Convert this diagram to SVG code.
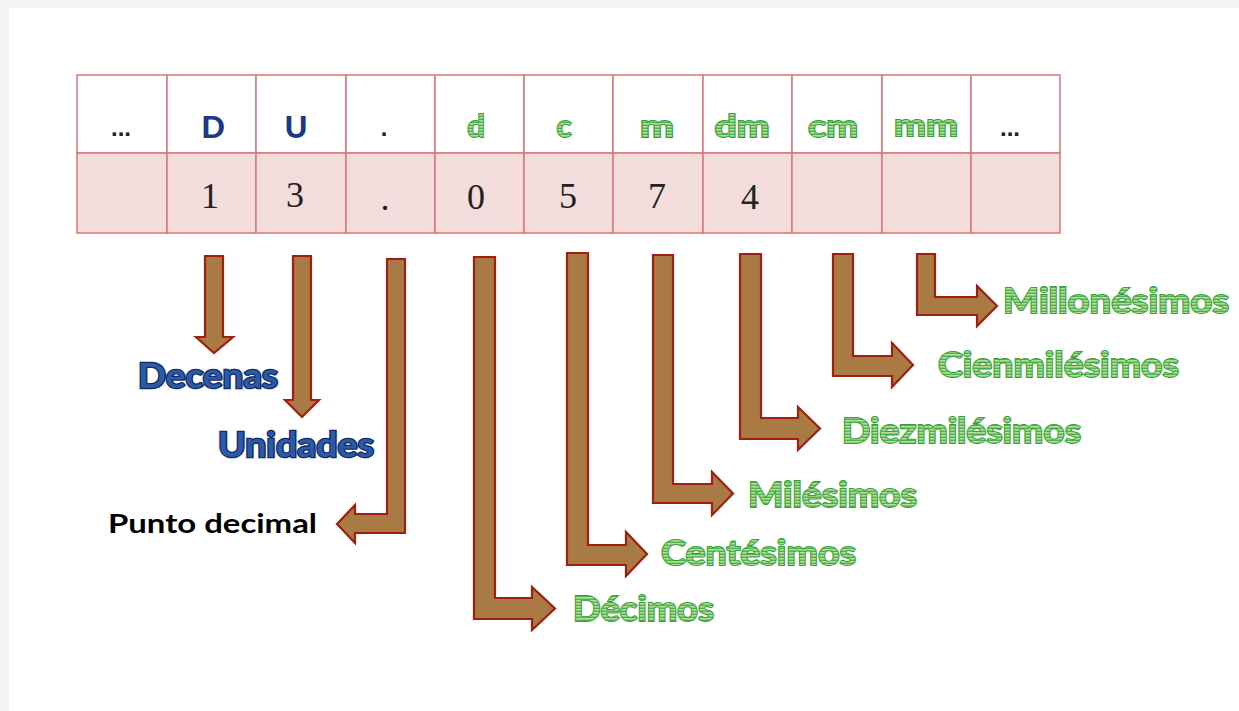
<svg xmlns="http://www.w3.org/2000/svg" width="1239" height="711" viewBox="0 0 1239 711">
<defs>
<pattern id="stripes" width="6" height="3" patternUnits="userSpaceOnUse">
<rect width="6" height="3" fill="#b6de92"/>
<rect y="1.6" width="6" height="1.4" fill="#4fb24c"/>
</pattern>
<style>
.cell{stroke:#d9777a;stroke-width:1.5}
.hdr{fill:#ffffff}
.val{fill:#f2dcdc}
.arrow{fill:#a97a43;stroke:#a11f10;stroke-width:2.2;stroke-linejoin:miter}
.green{font-family:Lato,"Liberation Sans",sans-serif;font-weight:700;fill:url(#stripes);stroke:#35a042;stroke-width:2;paint-order:stroke}
.blue{font-family:Lato,"Liberation Sans",sans-serif;font-weight:700;fill:#2d5aa6;stroke:#102c68;stroke-width:2.6;paint-order:stroke}
.navy{font-family:Lato,"Liberation Sans",sans-serif;font-weight:900;fill:#1b3a86}
.hg{font-family:Lato,"Liberation Sans",sans-serif;font-weight:700;fill:url(#stripes);stroke:#2e9c3e;stroke-width:1.8;paint-order:stroke}
.dots{font-family:"Liberation Sans",sans-serif;font-weight:700;font-size:24px;fill:#222}
.num{font-family:"Liberation Serif",serif;font-size:36px;fill:#222}
.black{font-family:Lato,"Liberation Sans",sans-serif;font-weight:700;fill:#000}
</style>
</defs>
<rect width="1239" height="711" fill="#ffffff"/>
<rect x="0" y="0" width="1239" height="8" fill="#f5f5f5"/>
<rect x="0" y="0" width="9" height="711" fill="#f5f5f5"/>

<g id="table">
<g id="header-row">
<rect class="cell hdr" x="77" y="75" width="90" height="78"/>
<rect class="cell hdr" x="167" y="75" width="89" height="78"/>
<rect class="cell hdr" x="256" y="75" width="90" height="78"/>
<rect class="cell hdr" x="346" y="75" width="89" height="78"/>
<rect class="cell hdr" x="435" y="75" width="89" height="78"/>
<rect class="cell hdr" x="524" y="75" width="89" height="78"/>
<rect class="cell hdr" x="613" y="75" width="90" height="78"/>
<rect class="cell hdr" x="703" y="75" width="89" height="78"/>
<rect class="cell hdr" x="792" y="75" width="90" height="78"/>
<rect class="cell hdr" x="882" y="75" width="89" height="78"/>
<rect class="cell hdr" x="971" y="75" width="89" height="78"/>
<text class="dots" x="121" y="136" text-anchor="middle">...</text>
<text class="navy" x="213" y="138" font-size="31" text-anchor="middle">D</text>
<text class="navy" x="296" y="138" font-size="31" text-anchor="middle">U</text>
<text class="dots" x="384" y="136" text-anchor="middle">.</text>
<text class="hg" x="476" y="137" font-size="31" text-anchor="middle">d</text>
<text class="hg" x="564" y="137" font-size="31" text-anchor="middle">c</text>
<text class="hg" x="657" y="137" font-size="31" text-anchor="middle" textLength="34" lengthAdjust="spacingAndGlyphs">m</text>
<text class="hg" x="742" y="137" font-size="31" text-anchor="middle" textLength="55" lengthAdjust="spacingAndGlyphs">dm</text>
<text class="hg" x="833" y="137" font-size="31" text-anchor="middle" textLength="50" lengthAdjust="spacingAndGlyphs">cm</text>
<text class="hg" x="926" y="136" font-size="31" text-anchor="middle" textLength="64" lengthAdjust="spacingAndGlyphs">mm</text>
<text class="dots" x="1010" y="136" text-anchor="middle">...</text>
</g>
<g id="value-row">
<rect class="cell val" x="77" y="153" width="90" height="80"/>
<rect class="cell val" x="167" y="153" width="89" height="80"/>
<rect class="cell val" x="256" y="153" width="90" height="80"/>
<rect class="cell val" x="346" y="153" width="89" height="80"/>
<rect class="cell val" x="435" y="153" width="89" height="80"/>
<rect class="cell val" x="524" y="153" width="89" height="80"/>
<rect class="cell val" x="613" y="153" width="90" height="80"/>
<rect class="cell val" x="703" y="153" width="89" height="80"/>
<rect class="cell val" x="792" y="153" width="90" height="80"/>
<rect class="cell val" x="882" y="153" width="89" height="80"/>
<rect class="cell val" x="971" y="153" width="89" height="80"/>
<text class="num" x="210" y="208" text-anchor="middle">1</text>
<text class="num" x="295" y="207" text-anchor="middle">3</text>
<text class="num" x="385" y="210" text-anchor="middle">.</text>
<text class="num" x="476" y="209" text-anchor="middle">0</text>
<text class="num" x="568" y="208" text-anchor="middle">5</text>
<text class="num" x="657" y="208" text-anchor="middle">7</text>
<text class="num" x="750" y="209" text-anchor="middle">4</text>
</g>
</g>

<g id="connectors">
<polygon class="arrow" points="205,256 223,256 223,337 233,337 214,353 196,337 205,337"/>
<polygon class="arrow" points="293,256 311,256 311,400 319,400 302,417 285,400 293,400"/>
<polygon class="arrow" points="387,259 405,259 405,533 355,533 355,543 337,524 355,505 355,514 387,514"/>
<polygon class="arrow" points="474,257 495,257 495,598 532,598 532,587 555,608.5 532,630 532,619 474,619"/>
<polygon class="arrow" points="567,253 588,253 588,545 626,545 626,532 647,554 626,576 626,565 567,565"/>
<polygon class="arrow" points="653,255 673,255 673,484 712,484 712,472 733,493.5 712,515 712,503 653,503"/>
<polygon class="arrow" points="740,254 761,254 761,418 798,418 798,407 820,428.5 798,450 798,439 740,439"/>
<polygon class="arrow" points="833,254 853,254 853,356 892,356 892,343 913,365 892,387 892,376 833,376"/>
<polygon class="arrow" points="917,254 935,254 935,297 977,297 977,286 997,306 977,326 977,315 917,315"/>
</g>

<g id="labels">
<g id="decenas"><text class="blue" x="138" y="388" font-size="34" textLength="140" lengthAdjust="spacingAndGlyphs">Decenas</text></g>
<g id="unidades"><text class="blue" x="218" y="457" font-size="34" textLength="156" lengthAdjust="spacingAndGlyphs">Unidades</text></g>
<g id="punto-decimal"><text class="black" x="108" y="533" font-size="27" textLength="209" lengthAdjust="spacingAndGlyphs">Punto decimal</text></g>
<g id="decimos"><text class="green" x="573" y="621" font-size="35" textLength="141" lengthAdjust="spacingAndGlyphs">Décimos</text></g>
<g id="centesimos"><text class="green" x="661" y="565" font-size="35" textLength="195" lengthAdjust="spacingAndGlyphs">Centésimos</text></g>
<g id="milesimos"><text class="green" x="748" y="507" font-size="35" textLength="169" lengthAdjust="spacingAndGlyphs">Milésimos</text></g>
<g id="diezmilesimos"><text class="green" x="842" y="443" font-size="35" textLength="239" lengthAdjust="spacingAndGlyphs">Diezmilésimos</text></g>
<g id="cienmilesimos"><text class="green" x="938" y="377" font-size="35" textLength="241" lengthAdjust="spacingAndGlyphs">Cienmilésimos</text></g>
<g id="millonesimos"><text class="green" x="1003" y="313" font-size="35" textLength="226" lengthAdjust="spacingAndGlyphs">Millonésimos</text></g>
</g>
</svg>
